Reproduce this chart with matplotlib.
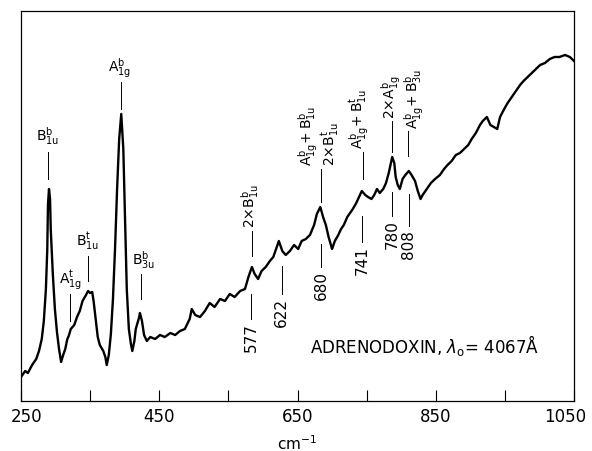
import matplotlib
matplotlib.use("Agg")
import matplotlib.pyplot as plt
import matplotlib.transforms as mtransforms

# Raman spectrum (cm-1, relative intensity)
wavenumber = [250, 256, 260, 266, 272, 276, 280, 283, 286, 288, 289, 290.5, 292, 293, 296, 299,
              302, 305, 308, 311, 314, 317, 319, 322, 327, 331, 335, 339, 344, 347, 350, 353,
              355, 358, 361, 364, 369, 372, 374, 377, 380, 383, 386, 389, 392, 395, 398, 400.5,
              403, 406, 409, 411, 414, 416, 421, 422, 425, 428, 432, 437, 444, 451, 458, 466,
              473, 480, 487, 494, 497, 502, 509, 516, 523, 530, 538, 545, 552, 559, 567, 574,
              579, 584, 588, 593, 598, 604, 610, 615, 619, 623, 628, 633, 639, 645, 651, 656,
              662, 668, 674, 678, 683, 687, 691, 695, 700, 704, 709, 713, 717, 722, 726, 730,
              735, 739, 743, 748, 752, 757, 761, 765, 769, 774, 778, 782, 787, 790, 792, 795,
              798, 802, 806, 811, 815, 820, 824, 828, 831, 837, 843, 849, 856, 862, 867, 873,
              879, 885, 891, 897, 902, 908, 914, 918, 924, 929, 934, 939, 943, 949, 954, 960,
              966, 972, 977, 983, 989, 995, 1001, 1008, 1015, 1022, 1029, 1037, 1044, 1050]
intensity = [24, 30, 28, 36, 42, 50, 62, 80, 112, 152, 197, 212, 202, 172, 127, 92,
             69, 52, 39, 46, 52, 62, 65, 72, 76, 84, 90, 100, 106, 110, 108, 109,
             100, 82, 64, 56, 50, 44, 36, 46, 67, 102, 152, 212, 262, 287, 252, 182,
             112, 72, 57, 50, 60, 72, 84, 88, 80, 66, 60, 64, 62, 66, 64, 68,
             66, 70, 72, 82, 92, 86, 84, 90, 98, 94, 102, 100, 107, 104, 110, 112,
             124, 134, 127, 122, 130, 134, 140, 144, 152, 160, 150, 146, 150, 156, 152, 160,
             162, 166, 176, 187, 194, 184, 176, 164, 152, 160, 166, 172, 176, 184, 188, 192,
             198, 204, 210, 206, 204, 202, 206, 212, 208, 212, 218, 228, 244, 238, 224, 216,
             212, 222, 226, 230, 226, 220, 210, 202, 206, 212, 218, 222, 226, 232, 236, 240,
             246, 248, 252, 256, 262, 268, 276, 280, 284, 276, 274, 272, 284, 292, 298, 304,
             310, 316, 320, 324, 328, 332, 336, 338, 342, 344, 344, 346, 344, 340]

tick_values = [250, 350, 450, 550, 650, 750, 850, 950, 1050]
tick_labels = ["250", "", "450", "", "650", "", "850", "", "1050"]

# band assignments above the trace: text, text x, text bottom, line x, line top, line bottom, rotation
upper_labels = [
    (r"$\mathrm{B}_{\mathrm{1u}}^{\mathrm{b}}$", 289, 255, 289, 249, 222, 0),
    (r"$\mathrm{A}_{\mathrm{1g}}^{\mathrm{t}}$", 322, 110, 321, 107, 80, 0),
    (r"$\mathrm{B}_{\mathrm{1u}}^{\mathrm{t}}$", 346, 150, 347, 145, 120, 0),
    (r"$\mathrm{A}_{\mathrm{1g}}^{\mathrm{b}}$", 393, 322, 395, 319, 292, 0),
    (r"$\mathrm{B}_{\mathrm{3u}}^{\mathrm{b}}$", 427, 131, 424, 127, 102, 0),
    (r"$2{\times}\mathrm{B}_{\mathrm{1u}}^{\mathrm{b}}$", 581, 174, 584, 170, 145, 90),
    (r"$\mathrm{A}_{\mathrm{1g}}^{\mathrm{b}}\!+\mathrm{B}_{\mathrm{1u}}^{\mathrm{b}}$", 665, 236, 684, 232, 199, 90),
    (r"$2{\times}\mathrm{B}_{\mathrm{1u}}^{\mathrm{t}}$", 698, 236, None, None, None, 90),
    (r"$\mathrm{A}_{\mathrm{1g}}^{\mathrm{b}}\!+\mathrm{B}_{\mathrm{1u}}^{\mathrm{t}}$", 739, 253, 745, 249, 222, 90),
    (r"$2{\times}\mathrm{A}_{\mathrm{1g}}^{\mathrm{b}}$", 786, 283, 787, 280, 249, 90),
    (r"$\mathrm{A}_{\mathrm{1g}}^{\mathrm{b}}\!+\mathrm{B}_{\mathrm{3u}}^{\mathrm{b}}$", 818, 273, 810, 270, 245, 90),
]

# frequencies marked below the trace: text, x, line top, line bottom
lower_labels = [
    ("577", 583, 107, 82),
    ("622", 627, 135, 107),
    ("680", 684, 157, 134),
    ("741", 744, 185, 159),
    ("780", 787, 209, 185),
    ("808", 811, 207, 175),
]

fig = plt.figure(figsize=(5.92, 4.52), dpi=100)
ax = fig.add_axes([0.0355, 0.1106, 0.9341, 0.8629])

ax.plot(wavenumber, intensity, color="black", linewidth=1.7)

for text, tx, ty, lx, ly0, ly1, rot in upper_labels:
    ax.text(tx, ty, text, ha="center", va="bottom", rotation=rot, fontsize=10)
    if lx is not None:
        ax.plot([lx, lx], [ly0, ly1], color="black", linewidth=0.7)

for text, x, ly0, ly1 in lower_labels:
    ax.plot([x, x], [ly0, ly1], color="black", linewidth=0.7)
    ax.text(x, ly1 - 3, text, ha="center", va="top", rotation=90, fontsize=11)

ax.text(834, 57, r"ADRENODOXIN, $\lambda_{\mathrm{o}}$= 4067$\mathrm{\AA}$", ha="center",
        va="center", fontsize=12)

ax.set_xlim(250, 1050)
ax.set_ylim(0, 390)
ax.set_xticks(tick_values)
ax.set_xticklabels(tick_labels, fontsize=12)
ax.set_yticks([])
ax.tick_params(axis="x", direction="in", length=8, width=0.8, pad=4)
ax.set_xlabel("cm$^{-1}$", fontsize=11, labelpad=6)
for s in ax.spines.values():
    s.set_linewidth(0.9)

# nudge the outer labels so they stay inside the figure
shift = mtransforms.ScaledTranslation(-6 / 72, 0, fig.dpi_scale_trans)
last = ax.get_xticklabels()[-1]
last.set_transform(last.get_transform() + shift)
shift_first = mtransforms.ScaledTranslation(4 / 72, 0, fig.dpi_scale_trans)
first = ax.get_xticklabels()[0]
first.set_transform(first.get_transform() + shift_first)

fig.savefig("out.png", dpi=100)
